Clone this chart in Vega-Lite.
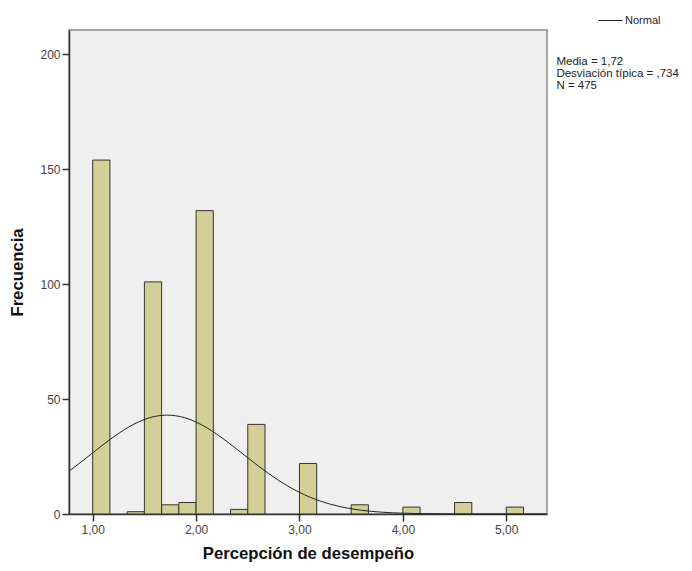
{
  "$schema": "https://vega.github.io/schema/vega-lite/v6.json",
  "autosize": "none",
  "padding": {"left": 69, "top": 30, "right": 145, "bottom": 57},
  "width": 478,
  "height": 484,
  "background": "white",
  "config": {
    "font": "Liberation Sans",
    "view": {"fill": "#efefef", "stroke": "#8a8a8a", "strokeWidth": 1.5},
    "axis": {
      "grid": false,
      "domainColor": "#333333",
      "domainWidth": 1.5,
      "tickColor": "#333333",
      "tickWidth": 1.5,
      "tickSize": 7,
      "labelColor": "#444444",
      "labelFont": "Liberation Sans",
      "labelFontSize": 12,
      "titleFont": "Liberation Sans",
      "titleFontSize": 16.7,
      "titleFontWeight": "bold",
      "titleColor": "#111111"
    }
  },
  "datasets": {
    "bins": [
      {"bin_start": 1.0, "bin_end": 1.1667, "count": 154},
      {"bin_start": 1.3333, "bin_end": 1.5, "count": 1},
      {"bin_start": 1.5, "bin_end": 1.6667, "count": 101},
      {"bin_start": 1.6667, "bin_end": 1.8333, "count": 4},
      {"bin_start": 1.8333, "bin_end": 2.0, "count": 5},
      {"bin_start": 2.0, "bin_end": 2.1667, "count": 132},
      {"bin_start": 2.3333, "bin_end": 2.5, "count": 2},
      {"bin_start": 2.5, "bin_end": 2.6667, "count": 39},
      {"bin_start": 3.0, "bin_end": 3.1667, "count": 22},
      {"bin_start": 3.5, "bin_end": 3.6667, "count": 4},
      {"bin_start": 4.0, "bin_end": 4.1667, "count": 3},
      {"bin_start": 4.5, "bin_end": 4.6667, "count": 5},
      {"bin_start": 5.0, "bin_end": 5.1667, "count": 3}
    ],
    "curve": [
      {"x": 0.77, "y": 18.62, "serie": "Normal"},
      {"x": 0.8, "y": 19.62, "serie": "Normal"},
      {"x": 0.9, "y": 23.06, "serie": "Normal"},
      {"x": 1.0, "y": 26.6, "serie": "Normal"},
      {"x": 1.1, "y": 30.12, "serie": "Normal"},
      {"x": 1.2, "y": 33.48, "serie": "Normal"},
      {"x": 1.3, "y": 36.53, "serie": "Normal"},
      {"x": 1.4, "y": 39.13, "serie": "Normal"},
      {"x": 1.5, "y": 41.14, "serie": "Normal"},
      {"x": 1.6, "y": 42.46, "serie": "Normal"},
      {"x": 1.7, "y": 43.01, "serie": "Normal"},
      {"x": 1.72, "y": 43.03, "serie": "Normal"},
      {"x": 1.8, "y": 42.77, "serie": "Normal"},
      {"x": 1.9, "y": 41.76, "serie": "Normal"},
      {"x": 2.0, "y": 40.01, "serie": "Normal"},
      {"x": 2.1, "y": 37.63, "serie": "Normal"},
      {"x": 2.2, "y": 34.75, "serie": "Normal"},
      {"x": 2.3, "y": 31.49, "serie": "Normal"},
      {"x": 2.4, "y": 28.02, "serie": "Normal"},
      {"x": 2.5, "y": 24.47, "serie": "Normal"},
      {"x": 2.6, "y": 20.97, "serie": "Normal"},
      {"x": 2.7, "y": 17.65, "serie": "Normal"},
      {"x": 2.8, "y": 14.58, "serie": "Normal"},
      {"x": 2.9, "y": 11.82, "serie": "Normal"},
      {"x": 3.0, "y": 9.41, "serie": "Normal"},
      {"x": 3.1, "y": 7.35, "serie": "Normal"},
      {"x": 3.2, "y": 5.64, "serie": "Normal"},
      {"x": 3.3, "y": 4.24, "serie": "Normal"},
      {"x": 3.4, "y": 3.14, "serie": "Normal"},
      {"x": 3.5, "y": 2.28, "serie": "Normal"},
      {"x": 3.6, "y": 1.62, "serie": "Normal"},
      {"x": 3.7, "y": 1.13, "serie": "Normal"},
      {"x": 3.8, "y": 0.78, "serie": "Normal"},
      {"x": 3.9, "y": 0.52, "serie": "Normal"},
      {"x": 4.0, "y": 0.35, "serie": "Normal"},
      {"x": 4.2, "y": 0.14, "serie": "Normal"},
      {"x": 4.4, "y": 0.055, "serie": "Normal"},
      {"x": 4.6, "y": 0.02, "serie": "Normal"},
      {"x": 4.8, "y": 0.007, "serie": "Normal"},
      {"x": 5.0, "y": 0.002, "serie": "Normal"},
      {"x": 5.2, "y": 0.0006, "serie": "Normal"},
      {"x": 5.39, "y": 0.0001, "serie": "Normal"}
    ],
    "stats": [
      {"label": "Media = 1,72\nDesviación típica = ,734\nN = 475"}
    ]
  },
  "layer": [
    {
      "data": {"name": "bins"},
      "mark": {"type": "rect", "fill": "#d4cf97", "stroke": "#333333", "strokeWidth": 1},
      "encoding": {
        "x": {
          "field": "bin_start",
          "type": "quantitative",
          "scale": {"domain": [0.771, 5.394], "nice": false, "zero": false},
          "axis": {
            "values": [1, 2, 3, 4, 5],
            "labelExpr": "replace(format(datum.value, '.2f'), '.', ',')",
            "labelPadding": 3,
            "titlePadding": 10
          },
          "title": "Percepción de desempeño"
        },
        "x2": {"field": "bin_end"},
        "y": {
          "field": "count",
          "type": "quantitative",
          "scale": {"domain": [0, 210.6], "nice": false},
          "axis": {"values": [0, 50, 100, 150, 200], "labelPadding": 2, "titlePadding": 13},
          "title": "Frecuencia"
        },
        "y2": {"datum": 0}
      }
    },
    {
      "data": {"name": "curve"},
      "mark": {"type": "line", "strokeWidth": 1, "interpolate": "monotone"},
      "encoding": {
        "x": {"field": "x", "type": "quantitative"},
        "y": {"field": "y", "type": "quantitative"},
        "stroke": {
          "field": "serie",
          "type": "nominal",
          "scale": {"range": ["#222222"]},
          "legend": {
            "title": null,
            "orient": "none",
            "legendX": 529,
            "legendY": -22,
            "padding": 0,
            "symbolType": "stroke",
            "symbolSize": 576,
            "symbolStrokeWidth": 1,
            "labelFont": "Liberation Sans",
            "labelFontSize": 11,
            "labelColor": "#222222",
            "labelOffset": 2
          }
        }
      }
    },
    {
      "data": {"name": "stats"},
      "mark": {"type": "text", "align": "left", "baseline": "top", "fontSize": 11.5, "lineHeight": 12, "lineBreak": "\n", "color": "#222222", "font": "Liberation Sans"},
      "encoding": {
        "x": {"datum": 5.485},
        "y": {"datum": 199.5},
        "text": {"field": "label"}
      }
    }
  ]
}
